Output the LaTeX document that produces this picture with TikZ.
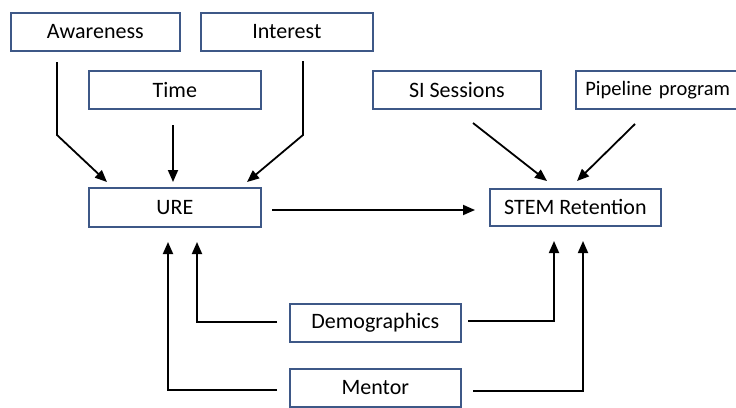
\documentclass[tikz,border=0pt]{standalone}
\usepackage{fontspec}
\setmainfont{Carlito}
\usetikzlibrary{arrows.meta}
\definecolor{boxline}{RGB}{62,88,135}
\tikzset{
  bx/.style={draw=boxline, line width=1.7pt, fill=white, inner sep=0pt, font=\fontsize{22}{25}\selectfont},
  arr/.style={line width=1.8pt, -{Triangle[length=12pt,width=10pt]}},
}
\begin{document}
\begin{tikzpicture}[x=1pt,y=-1pt]
\useasboundingbox (0,0) rectangle (736,407);
\fill[white] (0,0) rectangle (736,407);
\node[bx, minimum width=169pt, minimum height=38pt, anchor=north west] (aw) at (10,12) {Awareness};
\node[bx, minimum width=172pt, minimum height=38pt, anchor=north west] (in) at (200,12) {Interest};
\node[bx, minimum width=172pt, minimum height=38pt, anchor=north west] (ti) at (88,70) {Time};
\node[bx, minimum width=168pt, minimum height=38pt, anchor=north west] (si) at (372,70) {SI Sessions};
\node[bx, minimum width=175pt, minimum height=38pt, anchor=north west, text width=160pt, align=left, font=\fontsize{20.5}{23}\selectfont] (pp) at (575,70) {\hspace*{2pt}Pipeline\hspace{7pt}program};
\node[bx, minimum width=172pt, minimum height=39pt, anchor=north west] (ure) at (88,187) {URE};
\node[bx, minimum width=171pt, minimum height=37pt, anchor=north west] (stem) at (489,188) {STEM Retention};
\node[bx, minimum width=171pt, minimum height=38pt, anchor=north west] (dem) at (289,303) {Demographics};
\node[bx, minimum width=171pt, minimum height=38pt, anchor=north west] (men) at (289,368) {Mentor};
% connectors
\coordinate (a1) at (57,62);
\coordinate (a2) at (57,135);
\coordinate (ua) at (107,182);
\draw[arr] (a1) -- (a2) -- (ua);
\coordinate (t1) at (173,125);
\coordinate (ut) at (173,182);
\draw[arr] (t1) -- (ut);
\coordinate (i1) at (303,61);
\coordinate (i2) at (303,135);
\coordinate (ui) at (247,182);
\draw[arr] (i1) -- (i2) -- (ui);
\coordinate (s1) at (473,123);
\coordinate (ss) at (547,181);
\draw[arr] (s1) -- (ss);
\coordinate (p1) at (635,124);
\coordinate (sp) at (577,181);
\draw[arr] (p1) -- (sp);
\coordinate (u1) at (272,210);
\coordinate (su) at (475,210);
\draw[arr] (u1) -- (su);
% demographics
\coordinate (d1) at (277,322);
\coordinate (d2) at (197,322);
\coordinate (ud) at (197,242);
\draw[arr] (d1) -- (d2) -- (ud);
\coordinate (d3) at (468,321);
\coordinate (d4) at (554,321);
\coordinate (sd) at (554,241);
\draw[arr] (d3) -- (d4) -- (sd);
% mentor
\coordinate (m1) at (277,390);
\coordinate (m2) at (168,390);
\coordinate (um) at (168,242);
\draw[arr] (m1) -- (m2) -- (um);
\coordinate (m3) at (473,391);
\coordinate (m4) at (583,391);
\coordinate (sm) at (583,241);
\draw[arr] (m3) -- (m4) -- (sm);
\end{tikzpicture}
\end{document}
